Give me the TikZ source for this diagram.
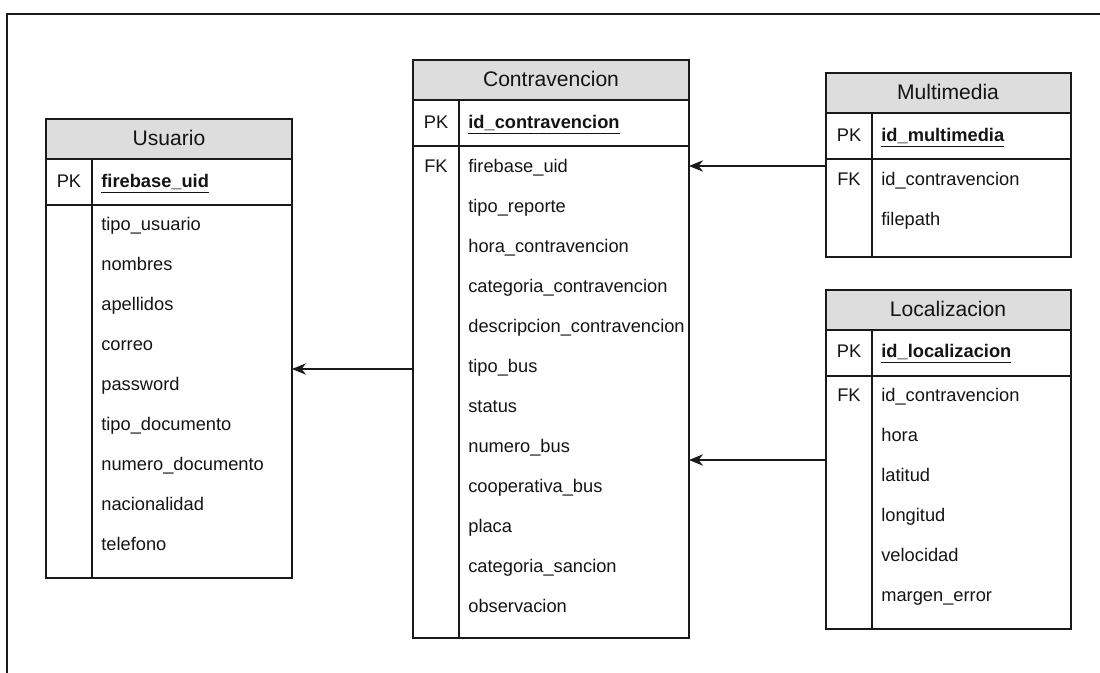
\documentclass[tikz,border=0pt]{standalone}
\usepackage{fontspec}
\setmainfont{Liberation Sans}
\usepackage{xcolor}
\definecolor{linedark}{RGB}{26, 26, 26}
\definecolor{headgray}{RGB}{221, 221, 221}
\definecolor{textdark}{RGB}{20, 20, 20}
\usetikzlibrary{arrows.meta, positioning}

\tikzset{
    tabbox/.style={draw=linedark, line width=0.8pt},
    headbox/.style={tabbox, fill=headgray},
    headtxt/.style={font=\fontsize{12}{14}\selectfont, text=textdark, inner sep=0pt,
        text height=9pt, text depth=3pt},
    keytxt/.style={font=\fontsize{10.4}{12}\selectfont, text=textdark, inner sep=0pt,
        text height=8pt, text depth=2.6pt},
    fieldtxt/.style={keytxt, anchor=west},
    pktxt/.style={fieldtxt, font=\fontsize{10.4}{12}\selectfont\bfseries},
    link/.style={draw=linedark, line width=0.8pt, -{Stealth[length=8pt, width=6.5pt]}}
}

\begin{document}
\begin{tikzpicture}[x=0.02cm, y=-0.02cm]
    \useasboundingbox (0,0) rectangle (1100,673);
    % frame
    \draw[linedark, line width=0.6pt] (7,673) -- (7,14) -- (1100,14);

    % Usuario
    \draw[headbox] (46,119) rectangle (292,159);
    \draw[tabbox] (46,159) rectangle (292,578);
    \draw[tabbox] (46,205) -- (292,205);
    \draw[tabbox] (92,159) -- (92,578);
    \node[headtxt] (usuario) at (169,140) {Usuario};
    \node[keytxt] (u-pk) at (69,183) {PK};
    \node[pktxt] (u-id) at (101,183) {\underline{firebase\_uid}};
    \foreach \f [count=\i] in {tipo\_usuario, nombres, apellidos, correo, password,
        tipo\_documento, numero\_documento, nacionalidad, telefono}
        \node[fieldtxt] (u-\i) at (101,186+40*\i) {\f};
    \coordinate (u-in) at (292,369);

    % Contravencion
    \draw[headbox] (413,60) rectangle (689,100);
    \draw[tabbox] (413,100) rectangle (689,638);
    \draw[tabbox] (413,146) -- (689,146);
    \draw[tabbox] (459,100) -- (459,638);
    \node[headtxt] (contravencion) at (551,81) {Contravencion};
    \node[keytxt] (c-pk) at (436,124) {PK};
    \node[pktxt] (c-id) at (468,124) {\underline{id\_contravencion}};
    \node[keytxt] (c-fk) at (436,168) {FK};
    \foreach \f [count=\i] in {firebase\_uid, tipo\_reporte, hora\_contravencion,
        categoria\_contravencion, descripcion\_contravencion, tipo\_bus, status,
        numero\_bus, cooperativa\_bus, placa, categoria\_sancion, observacion}
        \node[fieldtxt] (c-\i) at (468,128+40*\i) {\f};
    \coordinate (c-out) at (413,369);
    \coordinate (c-in1) at (689,166);
    \coordinate (c-in2) at (689,460);

    % Multimedia
    \draw[headbox] (826,73) rectangle (1071,113);
    \draw[tabbox] (826,113) rectangle (1071,257);
    \draw[tabbox] (826,159) -- (1071,159);
    \draw[tabbox] (872,113) -- (872,257);
    \node[headtxt] (multimedia) at (948,94) {Multimedia};
    \node[keytxt] (m-pk) at (849,137) {PK};
    \node[pktxt] (m-id) at (881,137) {\underline{id\_multimedia}};
    \node[keytxt] (m-fk) at (849,181) {FK};
    \foreach \f [count=\i] in {id\_contravencion, filepath}
        \node[fieldtxt] (m-\i) at (881,141+40*\i) {\f};
    \coordinate (m-out) at (826,166);

    % Localizacion
    \draw[headbox] (826,290) rectangle (1071,330);
    \draw[tabbox] (826,330) rectangle (1071,629);
    \draw[tabbox] (826,376) -- (1071,376);
    \draw[tabbox] (872,330) -- (872,629);
    \node[headtxt] (localizacion) at (948,311) {Localizacion};
    \node[keytxt] (l-pk) at (849,353) {PK};
    \node[pktxt] (l-id) at (881,353) {\underline{id\_localizacion}};
    \node[keytxt] (l-fk) at (849,397) {FK};
    \foreach \f [count=\i] in {id\_contravencion, hora, latitud, longitud,
        velocidad, margen\_error}
        \node[fieldtxt] (l-\i) at (881,357+40*\i) {\f};
    \coordinate (l-out) at (826,460);

    % relations
    \draw[link] (c-out) -- (u-in);
    \draw[link] (m-out) -- (c-in1);
    \draw[link] (l-out) -- (c-in2);
\end{tikzpicture}
\end{document}
